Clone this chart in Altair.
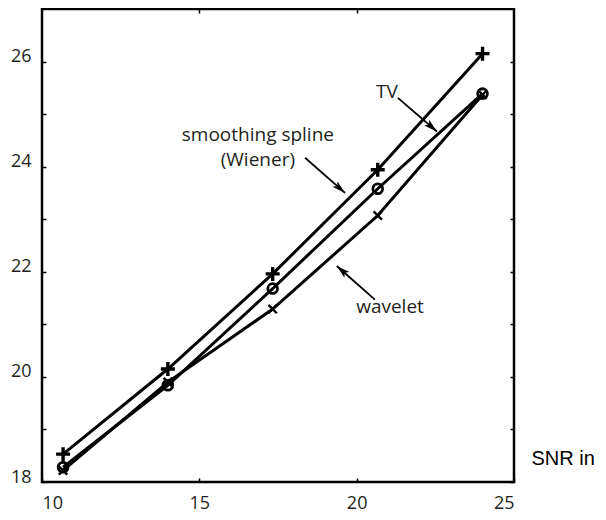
import math
import altair as alt
import pandas as pd

# ---- data ----
snr_in = [10.67, 14.0, 17.33, 20.67, 24.0]
spline = [18.53, 20.15, 21.96, 23.94, 26.15]
tv = [18.28, 19.84, 21.68, 23.58, 25.39]
wavelet = [18.22, 19.90, 21.29, 23.07, 25.37]
series_names = ["smoothing spline", "TV", "wavelet"]

x_ticks = [10, 15, 20, 25]
top_ticks = [15, 20]
y_ticks = [18, 19, 20, 21, 22, 23, 24, 25, 26]

ann_text = ["smoothing spline", "(Wiener)", "TV", "wavelet"]
ann_x = [16.86, 16.86, 20.96, 21.06]
ann_y = [24.61, 24.13, 25.43, 21.33]

arrow_x = [18.36, 21.31, 20.58]
arrow_y = [24.17, 25.31, 21.47]
arrow_x2 = [19.63, 22.55, 19.37]
arrow_y2 = [23.50, 24.67, 22.11]

# ---- build tables ----
rows = []
for name, vals in zip(series_names, [spline, tv, wavelet]):
    for xv, yv in zip(snr_in, vals):
        rows.append({"snr": xv, "val": yv, "series": name})
df = pd.DataFrame(rows)

W, H = 472, 473
X_DOM = [10, 25]
Y_DOM = [18, 27]
px_x = W / (X_DOM[1] - X_DOM[0])
px_y = H / (Y_DOM[1] - Y_DOM[0])

angles = []
for x1, y1, x2, y2 in zip(arrow_x, arrow_y, arrow_x2, arrow_y2):
    dx = (x2 - x1) * px_x
    dys = -(y2 - y1) * px_y
    angles.append(math.degrees(math.atan2(dx, -dys)) % 360)
arrows = pd.DataFrame({"x": arrow_x, "y": arrow_y, "x2": arrow_x2, "y2": arrow_y2, "ang": angles})
ann = pd.DataFrame({"x": ann_x, "y": ann_y, "t": ann_text})

xs = alt.Scale(domain=X_DOM, nice=False, zero=False)
ys = alt.Scale(domain=Y_DOM, nice=False, zero=False)

TXT = "#231f20"
common_axis = dict(tickSize=4, offset=-4, domain=False, grid=False, tickColor="black",
                   tickWidth=1.5, labelFont="Open Sans", labelFontSize=18, labelColor=TXT)

bottom_axis = alt.Axis(orient="bottom", values=x_ticks, format="d", labelPadding=12,
                       title="SNR in", titleFont="Liberation Sans", titleFontSize=20,
                       titleFontWeight="normal", titleColor="black", titleX=489, titleY=-20,
                       titleAlign="left", titleBaseline="middle", titleAngle=0,
                       **common_axis)
left_axis = alt.Axis(orient="left", values=y_ticks, format="d", labelPadding=11,
                     labelBaseline="alphabetic",
                     labelExpr="datum.value % 2 == 0 ? datum.label : ''", title=None,
                     **common_axis)
top_axis = alt.Axis(orient="top", values=top_ticks, labels=False, title=None, **common_axis)
right_axis = alt.Axis(orient="right", values=y_ticks, labels=False, title=None, **common_axis)

lines = alt.Chart(df).mark_line(color="black", strokeWidth=3).encode(
    x=alt.X("snr:Q", scale=xs, axis=bottom_axis),
    y=alt.Y("val:Q", scale=ys, axis=left_axis),
    detail="series:N",
)

PLUS = "M-1,0L1,0M0,-1L0,1"
XMARK = "M-1,-1L1,1M-1,1L1,-1"
marker_specs = [
    ("smoothing spline", PLUS, 196, 3.4),
    ("TV", "circle", 95, 2.8),
    ("wavelet", XMARK, 70, 2.4),
]
point_layers = []
for i, (name, shape, size, sw) in enumerate(marker_specs):
    ax_x = top_axis if i == 0 else None
    ax_y = right_axis if i == 0 else None
    point_layers.append(
        alt.Chart(df).transform_filter(alt.datum.series == name)
        .mark_point(shape=shape, size=size, strokeWidth=sw, filled=False, color="black", opacity=1)
        .encode(x=alt.X("snr:Q", scale=xs, axis=ax_x), y=alt.Y("val:Q", scale=ys, axis=ax_y))
    )

arrow_lines = alt.Chart(arrows).mark_rule(color="black", strokeWidth=1.8).encode(
    x=alt.X("x:Q", scale=xs, axis=None), y=alt.Y("y:Q", scale=ys, axis=None),
    x2="x2:Q", y2="y2:Q",
)
HEAD = "M0,0L0.42,1.5L0,1.15L-0.42,1.5Z"
arrow_heads = alt.Chart(arrows).mark_point(shape=HEAD, size=324, filled=True, color="black",
                                            opacity=1, strokeWidth=0).encode(
    x=alt.X("x2:Q", scale=xs, axis=None), y=alt.Y("y2:Q", scale=ys, axis=None),
    angle=alt.Angle("ang:Q", scale=None),
)

texts = alt.Chart(ann).mark_text(font="Open Sans", fontSize=19, color=TXT,
                                 align="center", baseline="middle").encode(
    x=alt.X("x:Q", scale=xs, axis=None), y=alt.Y("y:Q", scale=ys, axis=None), text="t:N",
)

chart = alt.layer(lines, *point_layers, arrow_lines, arrow_heads, texts).resolve_axis(
    x="independent", y="independent"
).properties(
    width=W, height=H,
    padding={"left": 34, "top": 1, "right": 84, "bottom": 30},
    autosize=alt.AutoSizeParams(type="none"),
    background="white",
).configure_view(stroke="black", strokeWidth=2.5)

chart.save("out.html", embed_options={"renderer": "svg", "actions": False})
